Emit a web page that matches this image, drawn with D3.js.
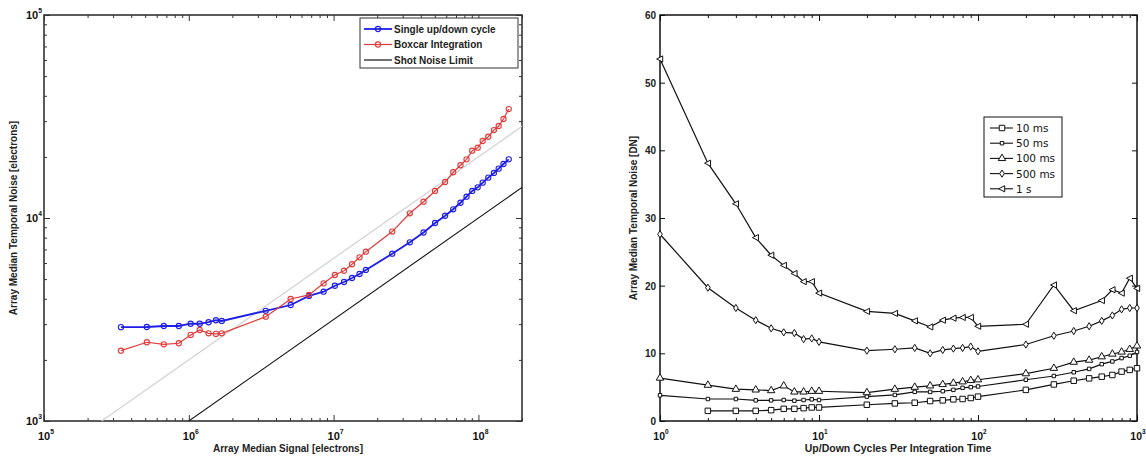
<!DOCTYPE html>
<html><head><meta charset="utf-8">
<script src="https://cdn.jsdelivr.net/npm/d3@7"></script>
<style>body{margin:0;background:#fff}svg{display:block}</style>
</head><body>
<svg id="c" width="1146" height="458"></svg>
<script>
// ---------- Left panel data ----------
const signal = [3.40e5,5.13e5,6.72e5,8.53e5,1.03e6,1.19e6,1.37e6,1.54e6,1.69e6,
  3.40e6,5.05e6,6.76e6,8.53e6,1.02e7,1.18e7,1.34e7,1.51e7,1.67e7,
  2.54e7,3.36e7,4.18e7,5.02e7,5.89e7,6.70e7,7.52e7,8.28e7,9.06e7,9.89e7,1.07e8,1.17e8,1.28e8,1.38e8,1.49e8,1.62e8];
const singleCycle = [2900,2904,2938,2938,3014,3014,3066,3136,3110,
  3491,3727,4130,4335,4637,4838,5062,5298,5546,
  6671,7590,8485,9449,10260,11040,11890,12730,13590,14160,14930,15800,16670,17500,18450,19450];
const boxcar = [2220,2443,2387,2415,2655,2808,2704,2685,2704,
  3266,3990,4178,4766,5240,5500,5918,6399,6825,
  8576,10550,12030,13590,15040,16800,18190,19450,21460,22200,23950,25140,27120,28390,30740,34410];
const leftSeriesNames = ["Single up/down cycle","Boxcar Integration","Shot Noise Limit"];
const leftXTicks = [5,6,7,8];
const leftYTicks = [3,4,5];

// ---------- Right panel data ----------
const cycles = [1,2,3,4,5,6,7,8,9,10,20,30,40,50,60,70,80,90,100,200,300,400,500,600,700,800,900,1000];
const ms10  = [null,1.5,1.5,1.5,1.6,1.8,1.8,1.9,2.0,2.0,2.4,2.6,2.7,2.95,3.05,3.2,3.25,3.4,3.6,4.6,5.4,5.95,6.3,6.55,6.8,7.3,7.55,7.8];
const ms50  = [3.8,3.25,3.25,3.05,3.05,3.1,3.0,3.1,3.2,3.1,3.6,3.85,4.3,4.3,4.4,4.6,4.9,5.0,5.1,6.1,6.65,7.2,7.7,8.4,8.8,9.3,9.65,10.2];
const ms100 = [6.35,5.3,4.7,4.6,4.5,5.2,4.3,4.3,4.4,4.4,4.2,4.7,5.0,5.2,5.4,5.6,5.8,6.0,6.1,7.0,7.8,8.7,9.0,9.5,9.9,10.2,10.6,11.1];
const ms500 = [27.6,19.7,16.7,14.9,13.7,13.1,13.0,12.1,12.2,11.7,10.4,10.6,10.8,10.0,10.5,10.7,10.8,11.0,10.3,11.3,12.6,13.3,14.0,14.8,15.6,16.5,16.7,16.7];
const s1    = [53.5,38.1,32.1,27.1,24.5,23.0,21.8,20.6,20.6,18.9,16.2,15.9,14.8,13.9,14.9,15.2,15.3,15.3,14.0,14.3,20.1,16.3,null,17.8,19.4,18.9,21.1,19.6];
const rightNames = ["10 ms","50 ms","100 ms","500 ms","1 s"];
const rightYTicks = [0,10,20,30,40,50,60];
const rightXTicks = [0,1,2,3];

const svg = d3.select("#c");
const bold = "'Liberation Sans', Arial, sans-serif";

function supLabel(g, x, y, exp, anchor, size) {
  const t = g.append("text").attr("x", x).attr("y", y).attr("text-anchor", anchor)
    .attr("font-family", bold).attr("font-weight", "bold").attr("font-size", size).attr("fill", "#111");
  t.append("tspan").text("10");
  t.append("tspan").attr("dy", -6).attr("font-size", size * 0.62).text(exp);
}

// ================= LEFT PANEL =================
const L = {x0: 44, x1: 522, y0: 15, y1: 421};
const lx = d3.scaleLog().domain([1e5, 2e8]).range([L.x0, L.x1]);
const ly = d3.scaleLog().domain([1e3, 1e5]).range([L.y1, L.y0]);
const gl = svg.append("g");

gl.append("defs").append("clipPath").attr("id", "clipL").append("rect")
  .attr("x", L.x0).attr("y", L.y0).attr("width", L.x1 - L.x0).attr("height", L.y1 - L.y0);

function logTicks(scale) {
  const [a, b] = scale.domain();
  const out = [];
  for (let e = Math.floor(Math.log10(a)); e <= Math.ceil(Math.log10(b)); e++)
    for (let m = 1; m < 10; m++) { const v = m * Math.pow(10, e); if (v >= a * 0.999 && v <= b * 1.001) out.push(v); }
  return out;
}
function drawLogAxes(g, xs, ys, box, col, ylog) {
  const xt = logTicks(xs);
  const isMajor = v => Math.abs(Math.log10(v) - Math.round(Math.log10(v))) < 1e-6;
  [[box.y1, d3.axisBottom], [box.y0, d3.axisTop]].forEach(([yy, ax]) => {
    const a = g.append("g").attr("transform", `translate(0,${yy})`)
      .call(ax(xs).tickValues(xt).tickFormat("").tickSizeOuter(0).tickSizeInner(-3));
    a.selectAll(".tick line").attr("y2", (d) => (ax === d3.axisBottom ? -1 : 1) * (isMajor(d) ? 6 : 3)).attr("stroke", col);
    a.select(".domain").remove();
  });
  if (ylog) {
    const yt = logTicks(ys);
    [[box.x0, d3.axisLeft], [box.x1, d3.axisRight]].forEach(([xx, ax]) => {
      const a = g.append("g").attr("transform", `translate(${xx},0)`)
        .call(ax(ys).tickValues(yt).tickFormat("").tickSizeOuter(0));
      a.selectAll(".tick line").attr("x2", (d) => (ax === d3.axisLeft ? 1 : -1) * (isMajor(d) ? 6 : 3)).attr("stroke", col);
      a.select(".domain").remove();
    });
  }
}
drawLogAxes(gl, lx, ly, L, "#333", true);
gl.append("rect").attr("x", L.x0).attr("y", L.y0).attr("width", L.x1 - L.x0).attr("height", L.y1 - L.y0)
  .attr("fill", "none").attr("stroke", "#333").attr("stroke-width", 1.6);

leftXTicks.forEach(e => supLabel(gl, lx(Math.pow(10, e)) + 2, 440, e, "middle", 11));
leftYTicks.forEach(e => supLabel(gl, 42, ly(Math.pow(10, e)) + 4, e, "end", 11));

const lineXs = [1e5, 2e8];
const refLine = d3.line().x(d => lx(d[0])).y(d => ly(d[1]));
const plotL = gl.append("g").attr("clip-path", "url(#clipL)");
plotL.append("path").attr("d", refLine(lineXs.map(s => [s, 2 * Math.sqrt(s)])))
  .attr("fill", "none").attr("stroke", "#d2d2d2").attr("stroke-width", 1.2);
plotL.append("path").attr("d", refLine(lineXs.map(s => [s, Math.sqrt(s)])))
  .attr("fill", "none").attr("stroke", "#111").attr("stroke-width", 1.1);

const leftSeries = [
  {vals: singleCycle, color: "#1e1ee6", w: 1.8},
  {vals: boxcar, color: "#e23a3a", w: 1.2}
];
leftSeries.forEach(s => {
  const pts = signal.map((x, i) => [x, s.vals[i]]);
  plotL.append("path").attr("d", refLine(pts)).attr("fill", "none").attr("stroke", s.color).attr("stroke-width", s.w);
  plotL.selectAll(null).data(pts).join("circle")
    .attr("cx", d => lx(d[0])).attr("cy", d => ly(d[1])).attr("r", 2.6)
    .attr("fill", "none").attr("stroke", s.color).attr("stroke-width", 1.1);
});
gl.append("text").attr("x", (L.x0 + L.x1) / 2 + 5).attr("y", 452).attr("text-anchor", "middle")
  .attr("font-family", bold).attr("font-weight", "bold").attr("font-size", 10).attr("fill", "#222")
  .text("Array Median Signal [electrons]");
gl.append("text").attr("transform", `translate(17,${(L.y0 + L.y1) / 2}) rotate(-90)`).attr("text-anchor", "middle")
  .attr("font-family", bold).attr("font-weight", "bold").attr("font-size", 10).attr("fill", "#222")
  .text("Array Median Temporal Noise [electrons]");

const lg = gl.append("g");
lg.append("rect").attr("x", 360).attr("y", 18).attr("width", 158).attr("height", 50)
  .attr("fill", "#fff").attr("stroke", "#333").attr("stroke-width", 1);
const legCols = ["#1e1ee6", "#e23a3a", "#111"];
leftSeriesNames.forEach((n, i) => {
  const yy = 29 + i * 15.5;
  lg.append("line").attr("x1", 364).attr("x2", 392).attr("y1", yy).attr("y2", yy)
    .attr("stroke", legCols[i]).attr("stroke-width", i === 0 ? 1.8 : 1.2);
  if (i < 2) lg.append("circle").attr("cx", 378).attr("cy", yy).attr("r", 2.6)
    .attr("fill", "none").attr("stroke", legCols[i]).attr("stroke-width", 1.1);
  lg.append("text").attr("x", 394).attr("y", yy + 3.6).attr("font-family", bold).attr("font-weight", "bold")
    .attr("font-size", 10).attr("fill", "#222").text(n);
});

// ================= RIGHT PANEL =================
const R = {x0: 660, x1: 1137, y0: 15, y1: 421};
const rx = d3.scaleLog().domain([1, 1000]).range([R.x0, R.x1]);
const ry = d3.scaleLinear().domain([0, 60]).range([R.y1, R.y0]);
const gr = svg.append("g");
drawLogAxes(gr, rx, ry, R, "#111", false);
[[R.x0, d3.axisLeft, 1], [R.x1, d3.axisRight, -1]].forEach(([xx, ax, sg]) => {
  const a = gr.append("g").attr("transform", `translate(${xx},0)`)
    .call(ax(ry).tickValues(rightYTicks).tickFormat("").tickSizeOuter(0));
  a.selectAll(".tick line").attr("x2", sg * 5).attr("stroke", "#111");
  a.select(".domain").remove();
});
gr.append("rect").attr("x", R.x0).attr("y", R.y0).attr("width", R.x1 - R.x0).attr("height", R.y1 - R.y0)
  .attr("fill", "none").attr("stroke", "#111").attr("stroke-width", 1.5);
rightYTicks.forEach(v => gr.append("text").attr("x", 656).attr("y", ry(v) + 4).attr("text-anchor", "end")
  .attr("font-family", bold).attr("font-weight", "bold").attr("font-size", 10).attr("fill", "#222").text(v));
rightXTicks.forEach(e => supLabel(gr, rx(Math.pow(10, e)) + 1, 440, e, "middle", 10.5));
gr.append("text").attr("x", 898).attr("y", 452).attr("text-anchor", "middle")
  .attr("font-family", bold).attr("font-weight", "bold").attr("font-size", 10.5).attr("fill", "#222")
  .text("Up/Down Cycles Per Integration Time");
gr.append("text").attr("transform", `translate(637,${(R.y0 + R.y1) / 2}) rotate(-90)`).attr("text-anchor", "middle")
  .attr("font-family", bold).attr("font-weight", "bold").attr("font-size", 10).attr("fill", "#222")
  .text("Array Median Temporal Noise [DN]");

const sym = {
  "10 ms": d3.symbol().type(d3.symbolSquare).size(30),
  "50 ms": d3.symbol().type(d3.symbolSquare).size(12),
  "100 ms": d3.symbol().type(d3.symbolTriangle).size(24)
};
function markerPath(name) {
  if (name === "500 ms") return "M0,-3.6L2.3,0L0,3.6L-2.3,0Z";
  if (name === "1 s") return "M-3.3,0L2.7,-3.1L2.7,3.1Z";
  return sym[name]();
}
const rightData = [ms10, ms50, ms100, ms500, s1];
const rline = d3.line().x(d => rx(d[0])).y(d => ry(d[1]));
rightData.forEach((vals, k) => {
  const def = cycles.map((c, i) => [c, vals[i]]).filter(d => d[1] != null);
  gr.append("path").attr("d", rline(def)).attr("fill", "none").attr("stroke", "#111").attr("stroke-width", 1.2);
  gr.selectAll(null).data(def).join("path")
    .attr("transform", d => `translate(${rx(d[0])},${ry(d[1])})`)
    .attr("d", markerPath(rightNames[k])).attr("fill", "#fff").attr("stroke", "#111").attr("stroke-width", 1);
});
const rg = gr.append("g");
rg.append("rect").attr("x", 984).attr("y", 117).attr("width", 78).attr("height", 80)
  .attr("fill", "#fff").attr("stroke", "#111").attr("stroke-width", 1);
rightNames.forEach((n, i) => {
  const yy = 128 + i * 15.2;
  rg.append("line").attr("x1", 990).attr("x2", 1013).attr("y1", yy).attr("y2", yy).attr("stroke", "#111").attr("stroke-width", 1.1);
  rg.append("path").attr("transform", `translate(1002,${yy})`).attr("d", markerPath(n))
    .attr("fill", "#fff").attr("stroke", "#111").attr("stroke-width", 1);
  rg.append("text").attr("x", 1016).attr("y", yy + 4).attr("font-family", "'DejaVu Sans', sans-serif")
    .attr("font-size", 10.5).attr("fill", "#111").text(n);
});
</script>
</body></html>
